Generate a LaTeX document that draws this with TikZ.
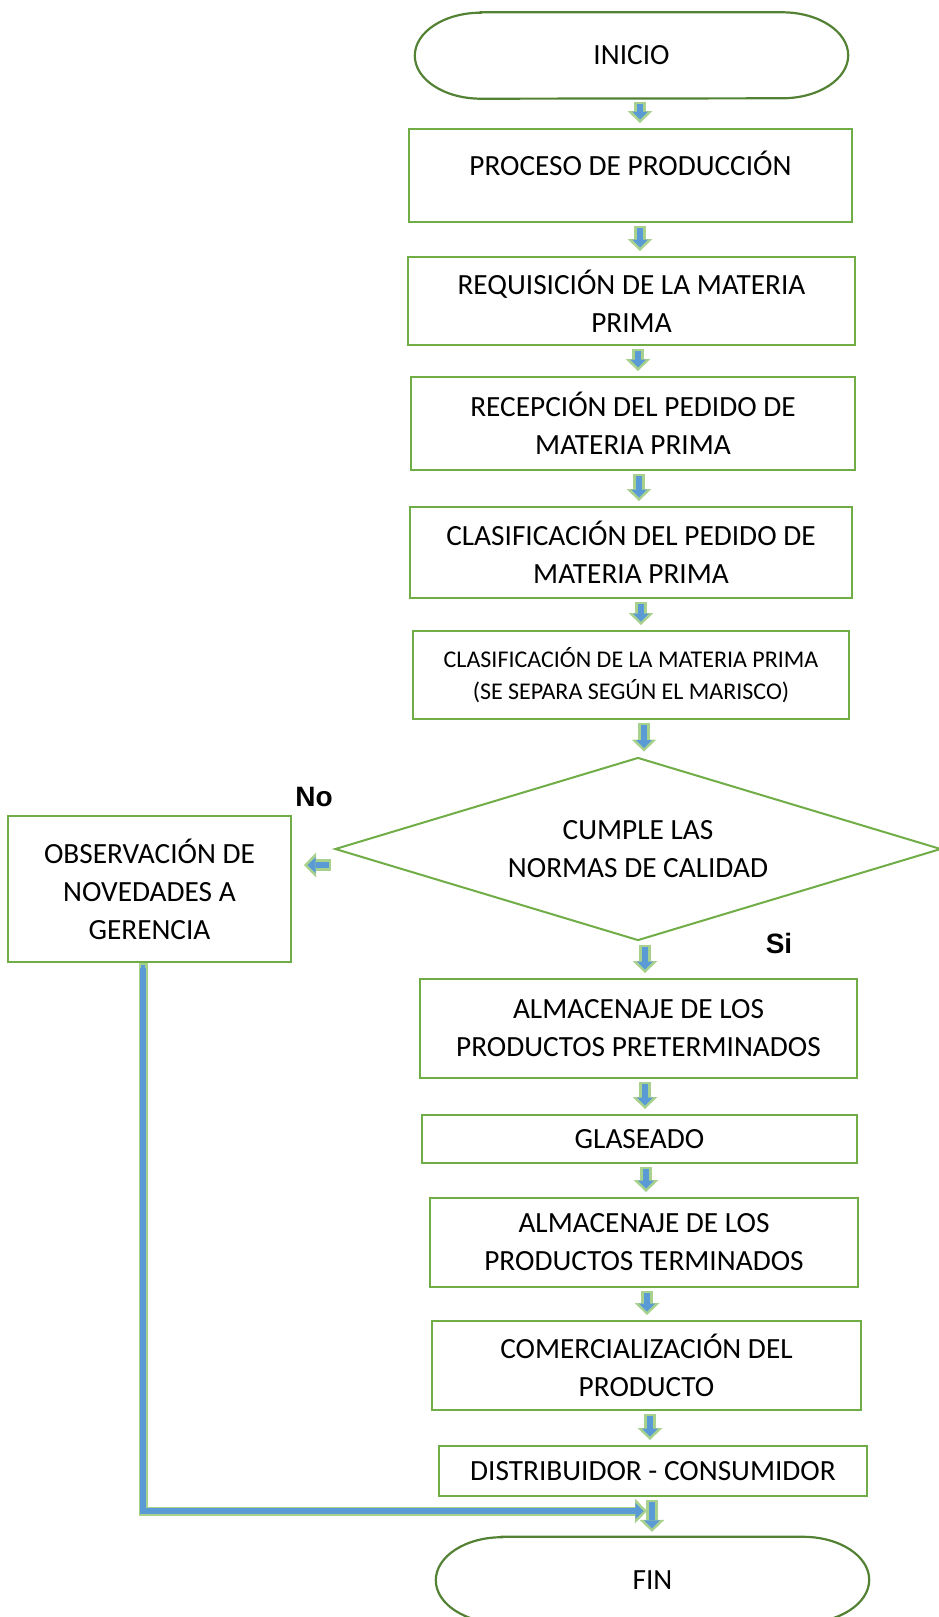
\documentclass[tikz,border=0pt]{standalone}
\usepackage{fontspec}
\setmainfont{Carlito}
\newfontfamily\answerfont{Liberation Sans}
\usetikzlibrary{
  shapes.geometric,  % Shape "diamond"
  arrows.meta,
  calc,              % Calculations $...$
}
\definecolor{boxgreen}{HTML}{70AD47}
\definecolor{termgreen}{HTML}{548235}
\definecolor{flowblue}{HTML}{5B9BD5}
\definecolor{flowgreen}{HTML}{A9D18E}
\tikzset{
  x=1pt,
  y=1pt,
  font=\fontsize{29.3}{38}\selectfont,
  my box/.style={
    draw=boxgreen,
    line width=2pt,
    rectangle,
    align=center,
    inner sep=0pt
  },
  my small/.style={
    font=\fontsize{24}{32}\selectfont
  },
  my terminal/.style={
    inner sep=0pt,
    minimum width=433pt,
    minimum height=86pt
  },
  my terminal line/.style={
    draw=termgreen,
    line width=2.2pt
  },
  my decision/.style={
    draw=boxgreen,
    line width=2pt,
    diamond,
    aspect=3.3,
    align=center,
    inner sep=0pt,
    minimum width=606pt,
    minimum height=183pt
  },
  my answer/.style={
    font=\answerfont\bfseries\fontsize{28}{30}\selectfont
  },
  % Block arrow: light green outline, blue inside
  my flow/.style={
    draw=flowgreen,
    line width=12pt,
    -{Triangle[width=25pt,length=12pt,line width=0pt]},
    shorten <=3pt,
    shorten >=5pt,
    postaction={
      draw=flowblue,
      line width=6pt,
      -{Triangle[width=16pt,length=8pt,line width=0pt]},
      shorten <=5pt,
      shorten >=8.5pt
    }
  },
  my long flow/.style={
    my flow,
    line width=9pt,
    postaction={
      draw=flowblue,
      line width=4.5pt,
      -{Triangle[width=15pt,length=8pt,line width=0pt]},
      shorten <=2pt,
      shorten >=8.5pt
    }
  }
}

\begin{document}
\begin{tikzpicture}
\useasboundingbox (0,0) rectangle (939,-1617);
\node[my terminal] (inicio) at (631.5,-55.5) {INICIO};
\node[my box, minimum width=443pt, minimum height=93pt] (proceso) at (630.5,-175.5) {\raisebox{24pt}{PROCESO DE PRODUCCIÓN}};
\node[my box, minimum width=447pt, minimum height=88pt] (req) at (631.5,-301) {REQUISICIÓN DE LA MATERIA\\PRIMA};
\node[my box, minimum width=444pt, minimum height=93pt] (recep) at (633,-423.5) {RECEPCIÓN DEL PEDIDO DE\\MATERIA PRIMA};
\node[my box, minimum width=442pt, minimum height=91pt] (clasped) at (631,-552.5) {CLASIFICACIÓN DEL PEDIDO DE\\MATERIA PRIMA};
\node[my box, my small, minimum width=436pt, minimum height=88pt] (clasmp) at (631,-675) {CLASIFICACIÓN DE LA MATERIA PRIMA\\(SE SEPARA SEGÚN EL MARISCO)};
\node[my decision] (cumple) at (638,-849) {CUMPLE LAS\\NORMAS DE CALIDAD};
\node[my box, minimum width=283pt, minimum height=146pt] (obs) at (149.5,-889) {OBSERVACIÓN DE\\NOVEDADES A\\GERENCIA};
\node[my box, minimum width=437pt, minimum height=99pt] (almpre) at (638.5,-1028.5) {ALMACENAJE DE LOS\\PRODUCTOS PRETERMINADOS};
\node[my box, minimum width=435pt, minimum height=48pt] (glas) at (639.5,-1139) {GLASEADO};
\node[my box, minimum width=428pt, minimum height=89pt] (almterm) at (644,-1242.5) {ALMACENAJE DE LOS\\PRODUCTOS TERMINADOS};
\node[my box, minimum width=429pt, minimum height=89pt] (comerc) at (646.5,-1365.5) {COMERCIALIZACIÓN DEL\\PRODUCTO};
\node[my box, minimum width=428pt, minimum height=50pt] (distr) at (653,-1471) {DISTRIBUIDOR - CONSUMIDOR};
\node[my terminal] (fin) at (652.5,-1580) {FIN};
\node[my answer] (no) at (314,-797) {No};
\node[my answer] (si) at (779,-943) {Si};

% Terminal outlines with elliptic ends
\foreach \n in {inicio,fin}
  \draw[my terminal line] ([xshift=66pt]\n.north west) -- ([xshift=-66pt]\n.north east)
    arc[start angle=90,end angle=-90,x radius=66pt,y radius=43pt]
    -- ([xshift=66pt]\n.south west)
    arc[start angle=270,end angle=90,x radius=66pt,y radius=43pt] -- cycle;

% Main flow
\foreach \a/\b/\dx in {inicio/proceso/8.5, proceso/req/9.5, req/recep/6.5,
    recep/clasped/6, clasped/clasmp/10, clasmp/cumple/13, cumple/almpre/7,
    almpre/glas/6.5, glas/almterm/6.5, almterm/comerc/3, comerc/distr/3.5,
    distr/fin/-1}
  \draw[my flow] ([xshift=\dx pt]\a.south) coordinate (s) -- (s |- \b.north);

% Branch "No"
\draw[my flow] ([yshift=-16pt]cumple.west) coordinate (s) -- ($(s -| obs.east)+(7,0)$);
\draw[my long flow, shorten <=0pt] ([xshift=-6.5pt]obs.south) |- ($(distr.south)+(-1,-14)$);
\end{tikzpicture}
\end{document}
